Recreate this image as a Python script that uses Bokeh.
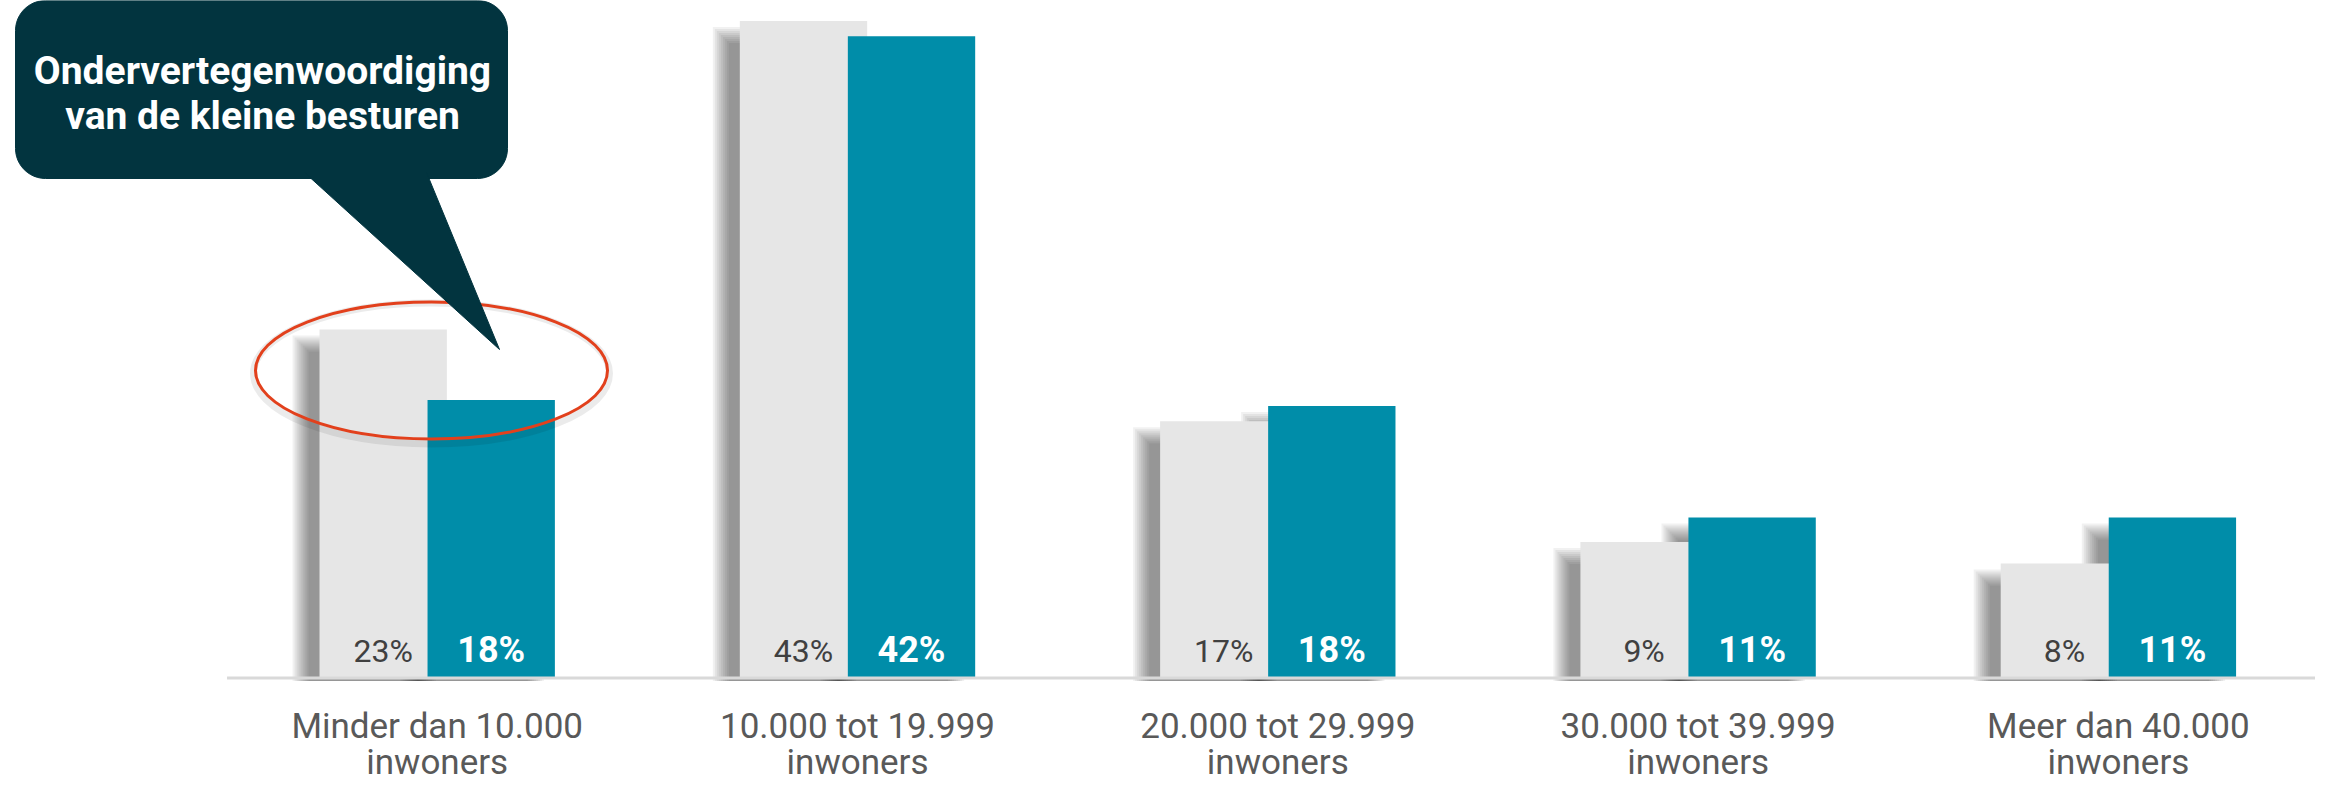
import math
from bokeh.plotting import figure
from bokeh.models import Range1d
from bokeh.core.properties import value
from bokeh.embed import file_html
from bokeh.resources import INLINE

# ---------------- data ----------------
categories = ["Minder dan 10.000\ninwoners", "10.000 tot 19.999\ninwoners",
              "20.000 tot 29.999\ninwoners", "30.000 tot 39.999\ninwoners",
              "Meer dan 40.000\ninwoners"]
grey_vals = [22.8, 43.0, 16.8, 8.9, 7.5]
teal_vals = [18.2, 42.0, 17.8, 10.5, 10.5]
grey_labels = ["23%", "43%", "17%", "9%", "8%"]
teal_labels = ["18%", "42%", "18%", "11%", "11%"]
callout_text = ["Ondervertegenwoordiging", "van de kleine besturen"]

# ---------------- layout constants ----------------
PX_PER_CAT = 420.3      # pixels per category
PX_PER_PCT = 15.28      # pixels per percent
X0_PX = 436.7           # reference x of first category centre
BASE_PX = 685.5         # reference y of baseline
W, H = 2315, 783
Y_SHIFT = 8             # canvas y = reference y - Y_SHIFT
DESC = 0.25             # text anchor correction (em)

def sx(px):  # reference x -> data x
    return (px - X0_PX) / PX_PER_CAT

def sy(py):  # reference y -> data y
    return (BASE_PX - py) / PX_PER_PCT

def ty(py, size):  # reference baseline y -> text anchor (data)
    return sy(py - DESC * size)

def dx(d):
    return d / PX_PER_CAT

def dy(d):
    return d / PX_PER_PCT

x_start = sx(0)
x_end = sx(W)
y_end = sy(Y_SHIFT)
y_start = sy(Y_SHIFT + H)

p = figure(width=W, height=H, output_backend="svg", toolbar_location=None,
           x_range=Range1d(x_start, x_end), y_range=Range1d(y_start, y_end),
           x_axis_type=None, y_axis_type=None, min_border=0,
           outline_line_color=None, background_fill_color="white",
           border_fill_color="white")
p.grid.visible = False

GREY = "#E6E6E6"
TEAL = "#008DA9"
OFF = 0.1285
BW = 0.303
idx = list(range(len(categories)))
gx = [i - OFF for i in idx]
tx = [i + OFF for i in idx]

# ---------------- soft shadows ----------------
SH_DX, SH_DY = -19, 14
for e in range(-8, 9, 2):
    for xs, vals in ((gx, grey_vals), (tx, teal_vals)):
        left = [x - BW / 2 + dx(SH_DX - e) for x in xs]
        right = [x + BW / 2 + dx(SH_DX + e) for x in xs]
        top = [v - dy(SH_DY) + dy(e) for v in vals]
        bottom = [-dy(3)] * len(xs)
        p.quad(left=left, right=right, top=top, bottom=bottom,
               fill_color="black", fill_alpha=0.055, line_color=None)

# ---------------- bars ----------------
p.vbar(x=gx, top=grey_vals, bottom=0, width=BW, fill_color=GREY, line_color=None)
p.vbar(x=tx, top=teal_vals, bottom=0, width=BW, fill_color=TEAL, line_color=None)

# axis line
p.line(x=[-0.5, x_end], y=[0, 0], line_color="#D9D9D9", line_width=3)

# ---------------- value labels ----------------
p.text(x=gx, y=[ty(666, 32)] * 5, text=grey_labels, text_font=value("Roboto"),
       text_font_size="32px", text_color="#404040", text_align="center",
       text_baseline="alphabetic")
p.text(x=tx, y=[ty(666, 36)] * 5, text=teal_labels, text_font=value("Roboto"),
       text_font_size="36px", text_font_style="bold", text_color="white",
       text_align="center", text_baseline="alphabetic")

# ---------------- category labels ----------------
line1 = [c.split("\n")[0] for c in categories]
line2 = [c.split("\n")[1] for c in categories]
p.text(x=idx, y=[ty(743, 35)] * 5, text=line1, text_font=value("Roboto"),
       text_font_size="35px", text_color="#595959", text_align="center",
       text_baseline="alphabetic")
p.text(x=idx, y=[ty(779, 35)] * 5, text=line2, text_font=value("Roboto"),
       text_font_size="35px", text_color="#595959", text_align="center",
       text_baseline="alphabetic")

# ---------------- highlight ellipse ----------------
ecx, ecy = sx(431), sy(378)
p.ellipse(x=[ecx], y=[sy(381)], width=356, height=141, width_units="screen",
          height_units="screen", fill_color=None, line_color="black",
          line_alpha=0.08, line_width=7)
p.ellipse(x=[ecx], y=[ecy], width=352, height=137, width_units="screen",
          height_units="screen", fill_color=None, line_color="#E2401C",
          line_width=3)

# ---------------- callout ----------------
DARK = "#02343F"
L, R, T, B, RAD = 15, 507, 8, 186, 30
pts = []
for cx, cy, a0 in ((R - RAD, T + RAD, -90), (R - RAD, B - RAD, 0),
                   (L + RAD, B - RAD, 90), (L + RAD, T + RAD, 180)):
    for k in range(13):
        a = math.radians(a0 + k * 7.5)
        pts.append((cx + RAD * math.cos(a), cy + RAD * math.sin(a)))
p.patch(x=[sx(a) for a, b in pts], y=[sy(b) for a, b in pts],
        fill_color=DARK, line_color=DARK, line_width=1)
tri = [(304, 180), (426, 180), (499, 357)]
p.patch(x=[sx(a) for a, b in tri], y=[sy(b) for a, b in tri],
        fill_color=DARK, line_color=DARK, line_width=1)
p.text(x=[sx(262)] * 2, y=[ty(88, 39), ty(133, 39)], text=callout_text,
       text_font=value("Roboto"), text_font_size="39px", text_font_style="bold",
       text_color="white", text_align="center", text_baseline="alphabetic")

open("out.html", "w").write(file_html(p, INLINE))
